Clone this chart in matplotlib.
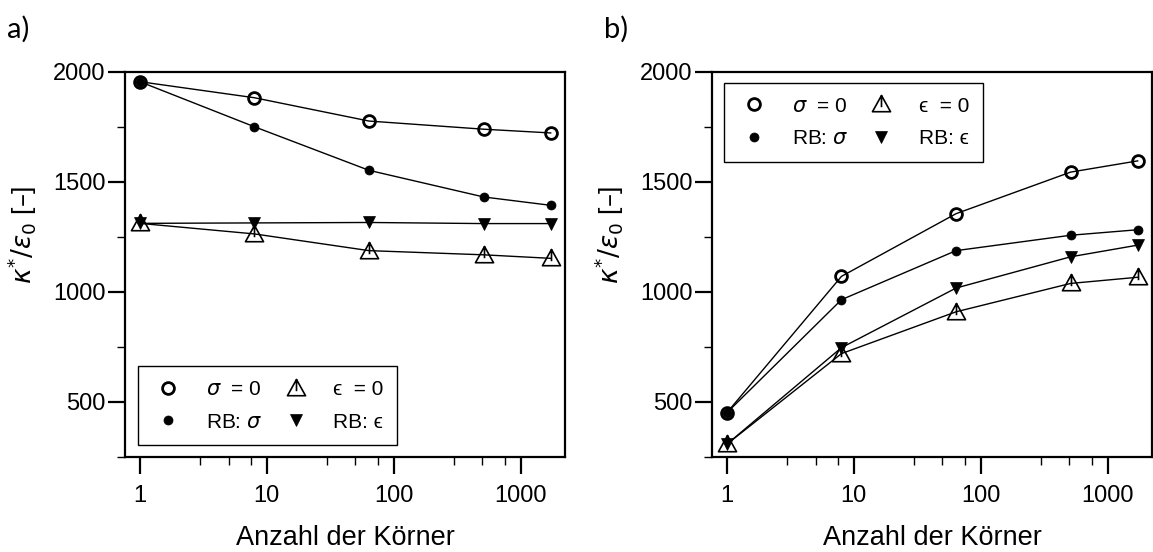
import matplotlib
matplotlib.use("Agg")
import matplotlib.pyplot as plt
from matplotlib.path import Path
from matplotlib.lines import Line2D
from matplotlib.ticker import FixedLocator, NullFormatter

plt.rcParams['font.family'] = ['Liberation Sans', 'DejaVu Sans']
plt.rcParams['mathtext.fontset'] = 'dejavusans'

# number of grains (1, 2^3, 4^3, 8^3, 12^3)
grains = [1, 8, 64, 512, 1728]

# a) effective permittivity, decreasing with grain count
a_sigma0 = [1956, 1883, 1777, 1740, 1723]
a_rb_sigma = [1956, 1751, 1553, 1432, 1394]
a_eps0 = [1312, 1264, 1188, 1169, 1153]
a_rb_eps = [1312, 1314, 1316, 1311, 1311]

# b) effective permittivity, increasing with grain count
b_sigma0 = [451, 1071, 1356, 1545, 1596]
b_rb_sigma = [451, 965, 1188, 1258, 1283]
b_eps0 = [308, 720, 910, 1039, 1067]
b_rb_eps = [308, 747, 1018, 1160, 1213]

x_ticks = [1, 10, 100, 1000]
x_tick_labels = ["1", "10", "100", "1000"]
y_ticks = [500, 1000, 1500, 2000]
y_tick_labels = ["500", "1000", "1500", "2000"]

labels = [r"$\sigma$  = 0", r"RB: $\sigma$", "\u03f5  = 0", "RB: \u03f5"]

# open triangle with a short vertical stroke from the apex
tri_verts = [(-1.0, -0.8), (1.0, -0.8), (0.0, 1.0), (-1.0, -0.8), (0.0, 1.0), (0.0, -0.3)]
tri_codes = [Path.MOVETO, Path.LINETO, Path.LINETO, Path.CLOSEPOLY, Path.MOVETO, Path.LINETO]
tri_marker = Path(tri_verts, tri_codes)

styles = {
    "sigma0": dict(marker="o", ms=8.5, mfc="none", mec="black", mew=2.0),
    "rb_sigma": dict(marker="o", ms=6.5, mfc="black", mec="black", mew=0.5),
    "eps0": dict(marker=tri_marker, ms=13, mfc="none", mec="black", mew=1.2),
    "rb_eps": dict(marker="v", ms=8, mfc="black", mec="black", mew=0.5),
}

fig = plt.figure(figsize=(11.53, 5.52), dpi=100)
W, H = 1153, 552
ax_a = fig.add_axes([125 / W, 1 - 457 / H, 440 / W, 385 / H])
ax_b = fig.add_axes([712 / W, 1 - 457 / H, 440 / W, 385 / H])


def draw(ax, s0, rs, e0, re, legend_loc, legend_anchor):
    order = [("eps0", e0), ("rb_eps", re), ("sigma0", s0), ("rb_sigma", rs)]
    for key, vals in order:
        ax.plot(grains, vals, color="black", lw=1.0, **styles[key], zorder=3)

    ax.set_xscale("log")
    ax.set_xlim(0.764, 2240)
    ax.set_ylim(250, 2000)

    ax.xaxis.set_major_locator(FixedLocator(x_ticks))
    ax.set_xticklabels(x_tick_labels)
    minors = [m * d for d in (1, 10, 100, 1000) for m in (3, 5, 7.5)]
    minors = [m for m in minors if m < 2240]
    ax.xaxis.set_minor_locator(FixedLocator(minors))
    ax.xaxis.set_minor_formatter(NullFormatter())

    ax.yaxis.set_major_locator(FixedLocator(y_ticks))
    ax.set_yticklabels(y_tick_labels)
    ax.yaxis.set_minor_locator(FixedLocator([250, 750, 1250, 1750]))

    ax.tick_params(which="major", direction="out", length=12, width=1.6,
                   labelsize=17, color="black")
    ax.tick_params(axis="x", which="major", pad=8)
    ax.tick_params(axis="y", which="major", pad=2)
    ax.tick_params(which="minor", direction="out", length=6, width=1.0, color="black")
    for sp in ax.spines.values():
        sp.set_linewidth(1.6)

    ax.set_xlabel("Anzahl der Körner", fontsize=19.5, va="baseline")
    ax.xaxis.set_label_coords(0.5, -0.228)

    handles = [
        Line2D([], [], ls="none", **styles["sigma0"]),
        Line2D([], [], ls="none", **styles["rb_sigma"]),
        Line2D([], [], ls="none", **styles["eps0"]),
        Line2D([], [], ls="none", **styles["rb_eps"]),
    ]
    leg = ax.legend(handles, labels, ncol=2, loc=legend_loc,
                    bbox_to_anchor=legend_anchor, fontsize=15, frameon=True,
                    fancybox=False, edgecolor="black", framealpha=1,
                    handletextpad=1.0, columnspacing=0.8, borderpad=0.65,
                    labelspacing=0.65, handlelength=1.6, borderaxespad=0)
    leg.get_frame().set_linewidth(1.0)


draw(ax_a, a_sigma0, a_rb_sigma, a_eps0, a_rb_eps, "lower left", (0.03, 0.031))
draw(ax_b, b_sigma0, b_rb_sigma, b_eps0, b_rb_eps, "upper left", (0.027, 0.971))

ylab = r"$\kappa^{*}/\varepsilon_{0}$ [–]"
fig.text(22 / W, 1 - 235 / H, ylab, rotation=90, ha="center", va="center", fontsize=19)
fig.text(609 / W, 1 - 235 / H, ylab, rotation=90, ha="center", va="center", fontsize=19)

fig.text(7 / W, 1 - 29 / H, "a)", ha="left", va="center", fontsize=21, family="Lato")
fig.text(604 / W, 1 - 29 / H, "b)", ha="left", va="center", fontsize=21, family="Lato")

fig.savefig("out.png", dpi=100)
